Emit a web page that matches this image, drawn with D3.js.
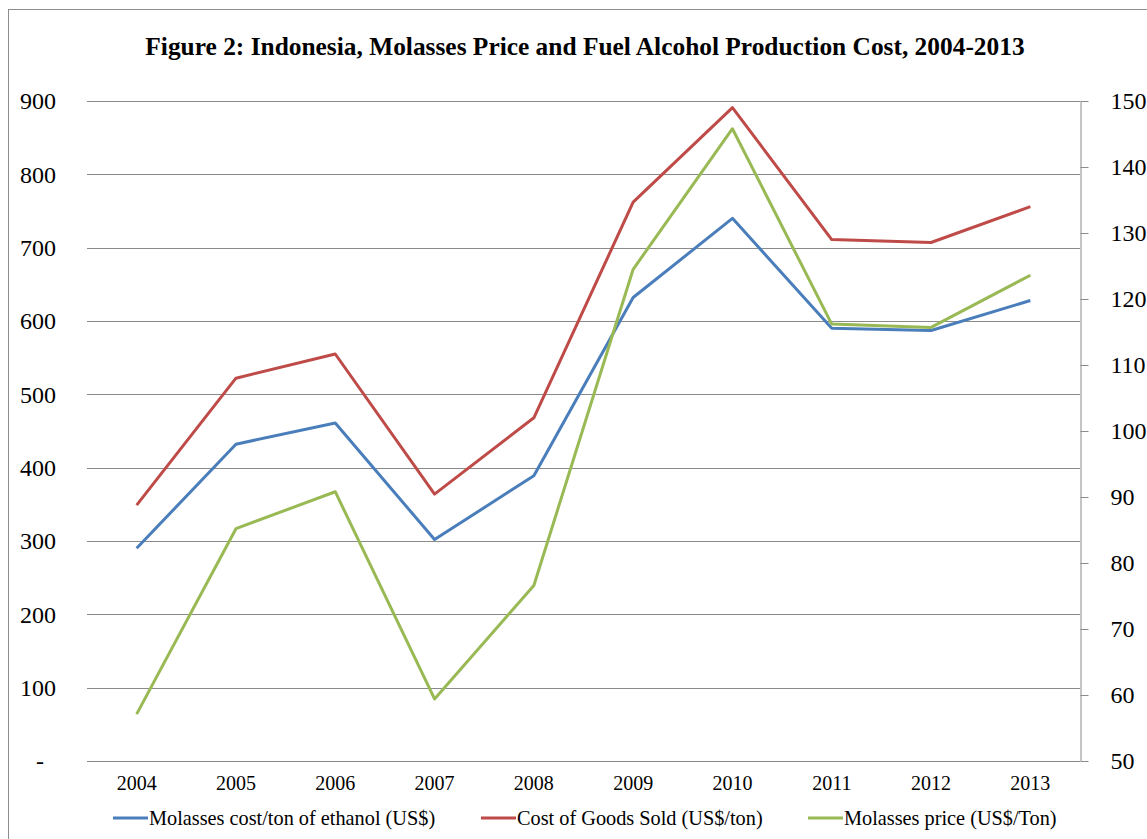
<!DOCTYPE html>
<html>
<head>
<meta charset="utf-8">
<script src="https://cdn.jsdelivr.net/npm/d3@7"></script>
<style>
  html, body { margin: 0; padding: 0; background: #fff; }
  svg { display: block; }
  svg text { fill: #000; }
</style>
</head>
<body>
<svg id="chart" width="1147" height="839"></svg>
<script>
const years = ["2004","2005","2006","2007","2008","2009","2010","2011","2012","2013"];
const molassesCost = [290, 432, 461, 302, 389, 632, 740, 590, 587, 628];
const costGoodsSold = [349, 522, 555, 364, 468, 762, 891, 711, 707, 756];
const molassesPrice = [57.1, 85.2, 90.8, 59.4, 76.6, 124.5, 145.8, 116.2, 115.7, 123.6];
const leftTicks = [0, 100, 200, 300, 400, 500, 600, 700, 800, 900];
const rightTicks = [50, 60, 70, 80, 90, 100, 110, 120, 130, 140, 150];
const seriesNames = ["Molasses cost/ton of ethanol (US$)", "Cost of Goods Sold (US$/ton)", "Molasses price (US$/Ton)"];
const title = "Figure 2: Indonesia, Molasses Price and Fuel Alcohol Production Cost, 2004-2013";

const colors = ["#4A7EBB", "#BE4B48", "#98B954"];
const svg = d3.select("#chart");
const m = { left: 87, right: 1080, top: 101, bottom: 761 };
const serif = '"Liberation Serif", "Times New Roman", serif';

// chart border
svg.append("rect").attr("x", 8.5).attr("y", 9.5).attr("width", 1160).attr("height", 860)
  .attr("fill", "none").attr("stroke", "#8c8c8c").attr("stroke-width", 1);

svg.append("text").attr("x", 585).attr("y", 55).attr("text-anchor", "middle")
  .attr("font-family", serif).attr("font-size", 25.4).attr("font-weight", "bold").text(title);

const x = d3.scaleBand().domain(years).range([m.left, m.right]);
const yL = d3.scaleLinear().domain([0, 900]).range([m.bottom, m.top]);
const yR = d3.scaleLinear().domain([50, 150]).range([m.bottom, m.top]);

// gridlines
svg.append("g").selectAll("line").data(leftTicks).join("line")
  .attr("x1", m.left).attr("x2", m.right)
  .attr("y1", d => Math.round(yL(d)) + 0.5).attr("y2", d => Math.round(yL(d)) + 0.5)
  .attr("stroke", "#8a8a8a").attr("stroke-width", 1);

// left labels
const gL = svg.append("g").attr("transform", `translate(${m.left},0)`)
  .call(d3.axisLeft(yL).tickValues(leftTicks).tickSize(0).tickPadding(31)
    .tickFormat(d => d === 0 ? "-" : d3.format("d")(d)));
gL.attr("font-family", serif).attr("font-size", 24);
gL.select(".domain").remove();
gL.selectAll(".tick").filter(d => d === 0).select("text").attr("dx", "-12px");

// right axis
const gR = svg.append("g").attr("transform", `translate(${m.right + 0.5},0)`)
  .call(d3.axisRight(yR).tickValues(rightTicks).tickSize(8).tickPadding(22).tickSizeOuter(0));
gR.attr("font-family", serif).attr("font-size", 24);
gR.select(".domain").attr("stroke", "#8a8a8a");
gR.selectAll(".tick line").attr("stroke", "#8a8a8a");

// x labels
const gX = svg.append("g").attr("transform", `translate(0,${m.bottom})`)
  .call(d3.axisBottom(x).tickSize(0).tickPadding(15));
gX.attr("font-family", serif).attr("font-size", 20);
gX.select(".domain").remove();

// lines
const cx = d => x(d) + x.bandwidth() / 2;
const lineL = d3.line().x((d, i) => cx(years[i])).y(d => yL(d));
const lineR = d3.line().x((d, i) => cx(years[i])).y(d => yR(d));
const data = [
  { v: molassesCost, gen: lineL },
  { v: costGoodsSold, gen: lineL },
  { v: molassesPrice, gen: lineR }
];
data.forEach((s, i) => {
  svg.append("path").attr("d", s.gen(s.v)).attr("fill", "none")
    .attr("stroke", colors[i]).attr("stroke-width", 3).attr("stroke-linejoin", "round");
});

// legend
const legX = [113, 481, 808];
const leg = svg.append("g").attr("font-family", serif).attr("font-size", 20.3);
seriesNames.forEach((n, i) => {
  leg.append("line").attr("x1", legX[i]).attr("x2", legX[i] + 35).attr("y1", 818).attr("y2", 818)
    .attr("stroke", colors[i]).attr("stroke-width", 3);
  leg.append("text").attr("x", legX[i] + 36).attr("y", 818).attr("dy", "0.35em").text(n);
});
</script>
</body>
</html>
